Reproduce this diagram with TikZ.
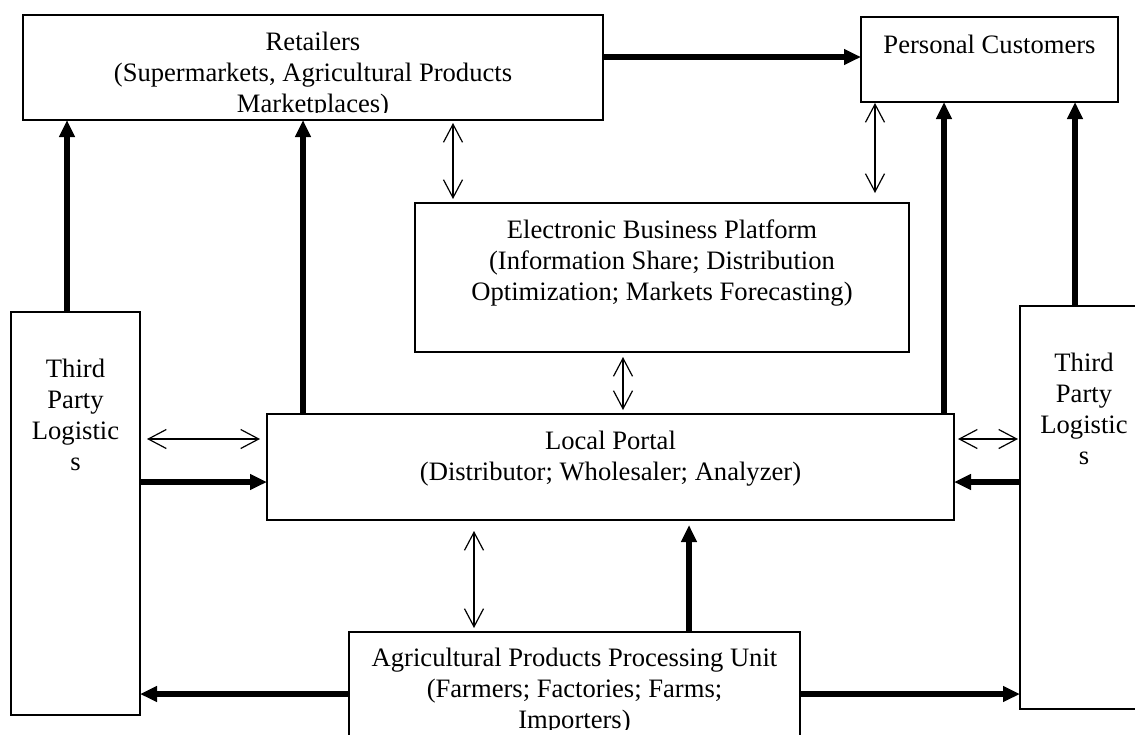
\documentclass[tikz,border=0pt]{standalone}
\usepackage{fontspec}
\setmainfont{Liberation Serif}
\usetikzlibrary{arrows.meta}
\begin{document}
\begin{tikzpicture}[x=0.5pt,y=-0.5pt,
  box/.style={draw, line width=0.9pt, inner sep=0pt, outer sep=0pt},
  txt/.style={inner sep=0pt, outer sep=0pt, align=center, anchor=north,
    font=\fontsize{13.3pt}{15.5pt}\selectfont},
  thk/.style={line width=2.6pt, -{Triangle[length=8.5pt,width=7.5pt]}},
  dbl/.style={line width=0.6pt, {Straight Barb[length=9pt,width=9.5pt]}-{Straight Barb[length=9pt,width=9.5pt]}}]
\useasboundingbox (0,0) rectangle (1135,734);
\fill[white] (0,0) rectangle (1135,734);
% boxes
\node[box, minimum width=290pt, minimum height=52.5pt] (ret) at (313,67.5) {};
\node[box, minimum width=128.5pt, minimum height=42.5pt] (pc) at (989.5,59.5) {};
\node[box, minimum width=247pt, minimum height=74.5pt] (ebp) at (662,277.5) {};
\node[box, minimum width=343.5pt, minimum height=53pt] (lp) at (610.5,467) {};
\node[box, minimum width=64.5pt, minimum height=201.5pt] (l3) at (75.5,513.5) {};
\node[box, minimum width=64pt, minimum height=201.5pt] (r3) at (1084,507.5) {};
\node[box, minimum width=225.5pt, minimum height=84pt] (appu) at (574.5,716) {};
% texts
\begin{scope}
\clip (23,15) rectangle (603,112);
\node[txt] (retT) at (313,32) {Retailers\\(Supermarkets, Agricultural Products\\Marketplaces)};
\end{scope}
\node[txt] (pcT) at (989.5,35) {Personal Customers};
\node[txt] (ebpT) at (662,220) {Electronic Business Platform\\(Information Share; Distribution\\Optimization; Markets Forecasting)};
\node[txt] (lpT) at (610.5,431) {Local Portal\\(Distributor; Wholesaler; Analyzer)};
\node[txt] (l3T) at (75.5,359) {Third\\Party\\Logistic\\s};
\node[txt] (r3T) at (1084,353) {Third\\Party\\Logistic\\s};
\begin{scope}
\clip (349,632) rectangle (800,729);
\node[txt] (appuT) at (574.5,648) {Agricultural Products Processing Unit\\(Farmers; Factories; Farms;\\Importers)};
\end{scope}
% helper coordinates
\coordinate (xa) at (67,0);
\coordinate (xb) at (303,0);
\coordinate (xc) at (944,0);
\coordinate (xd) at (1075,0);
\coordinate (xe) at (453,0);
\coordinate (xf) at (875,0);
\coordinate (xg) at (623,0);
\coordinate (xh) at (474,0);
\coordinate (xi) at (689,0);
\coordinate (ya) at (0,57);
\coordinate (yb) at (0,439);
\coordinate (yc) at (0,482);
\coordinate (yd) at (0,694);
% thick arrows
\draw[thk] (ret.east |- ya) -- (pc.west |- ya);
\draw[thk] (l3.north -| xa) -- (ret.south -| xa);
\draw[thk] (lp.north -| xb) -- (ret.south -| xb);
\draw[thk] (lp.north -| xc) -- (pc.south -| xc);
\draw[thk] (r3.north -| xd) -- (pc.south -| xd);
\draw[thk] (l3.east |- yc) -- (lp.west |- yc);
\draw[thk] (r3.west |- yc) -- (lp.east |- yc);
\draw[thk] (appu.west |- yd) -- (l3.east |- yd);
\draw[thk] (appu.east |- yd) -- (r3.west |- yd);
\draw[thk, shorten >=2.5pt] (appu.north -| xi) -- (lp.south -| xi);
% thin double arrows
\draw[dbl, shorten <=1.5pt, shorten >=2pt] (ret.south -| xe) -- (ebp.north -| xe);
\draw[dbl, shorten <=0.5pt, shorten >=5pt] (pc.south -| xf) -- (ebp.north -| xf);
\draw[dbl, shorten <=2.5pt, shorten >=2pt] (ebp.south -| xg) -- (lp.north -| xg);
\draw[dbl, shorten <=5.5pt, shorten >=2pt] (lp.south -| xh) -- (appu.north -| xh);
\draw[dbl, shorten <=3.5pt, shorten >=3.5pt] (l3.east |- yb) -- (lp.west |- yb);
\draw[dbl, shorten <=2pt, shorten >=1pt] (lp.east |- yb) -- (r3.west |- yb);
\end{tikzpicture}
\end{document}
